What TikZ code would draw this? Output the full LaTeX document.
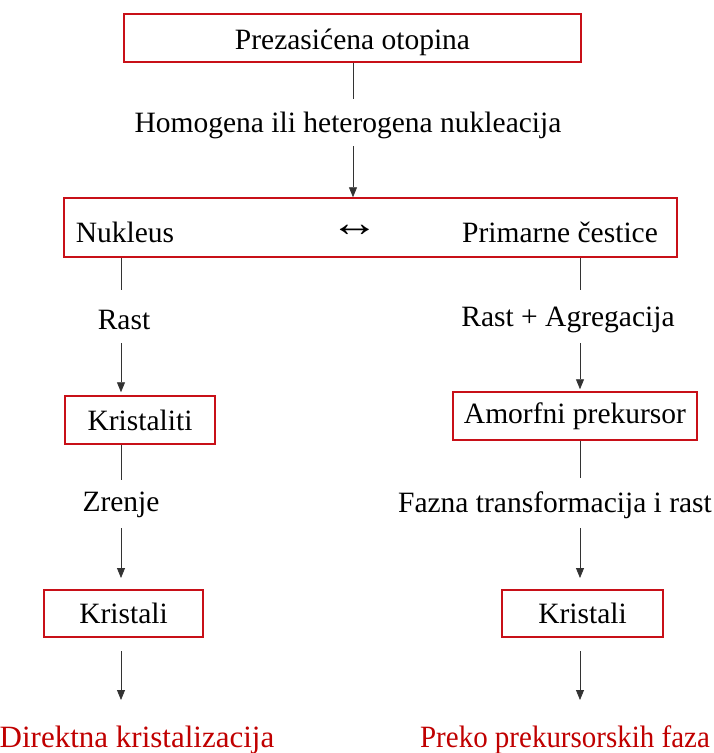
\documentclass[tikz,border=0pt]{standalone}
\usepackage{graphicx}
\usepackage{fontspec}
\setmainfont{Liberation Serif}
\usetikzlibrary{arrows.meta}
\definecolor{boxred}{RGB}{200,16,24}
\definecolor{txtred}{RGB}{192,0,0}
\newcommand{\fs}{\fontsize{29.5}{34}\selectfont}
\newcommand{\fsred}{\fontsize{31}{36}\selectfont}
\begin{document}
\begin{tikzpicture}[x=1pt,y=-1pt,
  box/.style={draw=boxred,line width=1.5pt,inner sep=0pt,font=\fs},
  lbl/.style={inner sep=0pt,font=\fs},
  redlbl/.style={inner sep=0pt,font=\fsred,text=txtred},
  ln/.style={line width=0.8pt,draw=black!80},
  arr/.style={ln,-{Triangle[length=10pt,width=8pt]}}]
\useasboundingbox (0,0) rectangle (714,753);
% boxes
\node[box,minimum width=457pt,minimum height=48pt,text height=22pt,text depth=0pt] (top) at (352.5,38) {Prezasićena otopina};
\node[box,minimum width=613pt,minimum height=59pt] (mid) at (370.5,227.5) {};
\node[box,minimum width=150pt,minimum height=48pt] (krt) at (140,420) {Kristaliti};
\node[box,minimum width=244pt,minimum height=48pt] (amo) at (575,416) {Amorfni prekursor};
\node[box,minimum width=159pt,minimum height=47pt] (kl) at (123.5,613.5) {Kristali};
\node[box,minimum width=161pt,minimum height=47pt] (kr) at (582.5,613.5) {Kristali};
% texts
\node[lbl] (hom) at (348,125) {Homogena ili heterogena nukleacija};
\node[lbl] (nuk) at (125,232) {Nukleus};
\node[lbl] (lr) at (355,231) {\scalebox{1.65}[1.35]{↔}};
\node[lbl] (prim) at (560,232) {Primarne čestice};
\node[lbl] (rast) at (124,320) {Rast};
\node[lbl] (rag) at (568,320) {Rast + Agregacija};
\node[lbl] (zr) at (121,505) {Zrenje};
\node[lbl] (faz) at (555,505) {Fazna transformacija i rast};
\node[redlbl] (dir) at (137,740) {Direktna kristalizacija};
\node[redlbl] (pre) at (565,740) {\scalebox{0.935}[1]{Preko prekursorskih faza}};
% coordinates
\coordinate (c1) at (353,99);
\coordinate (c2) at (353,146);
\coordinate (l1) at (121,290);
\coordinate (l2) at (121,343);
\coordinate (l3) at (121,480);
\coordinate (l4) at (121,528);
\coordinate (l5) at (121,578);
\coordinate (l6) at (121,651);
\coordinate (l7) at (121,700);
\coordinate (r1) at (580,290);
\coordinate (r2) at (580,343);
\coordinate (r3) at (580,478);
\coordinate (r4) at (580,528);
\coordinate (r5) at (580,578);
\coordinate (r6) at (580,651);
\coordinate (r7) at (580,700);
% connectors
\draw[ln] (top.south -| c1) -- (c1);
\draw[arr] (c2) -- (mid.north -| c2);
\draw[ln] (mid.south -| l1) -- (l1);
\draw[arr,shorten >=3pt] (l2) -- (krt.north -| l2);
\draw[ln] (krt.south -| l3) -- (l3);
\draw[arr] (l4) -- (l5);
\draw[arr] (l6) -- (l7);
\draw[ln] (mid.south -| r1) -- (r1);
\draw[arr,shorten >=2pt] (r2) -- (amo.north -| r2);
\draw[ln] (amo.south -| r3) -- (r3);
\draw[arr] (r4) -- (r5);
\draw[arr] (r6) -- (r7);
\end{tikzpicture}
\end{document}
